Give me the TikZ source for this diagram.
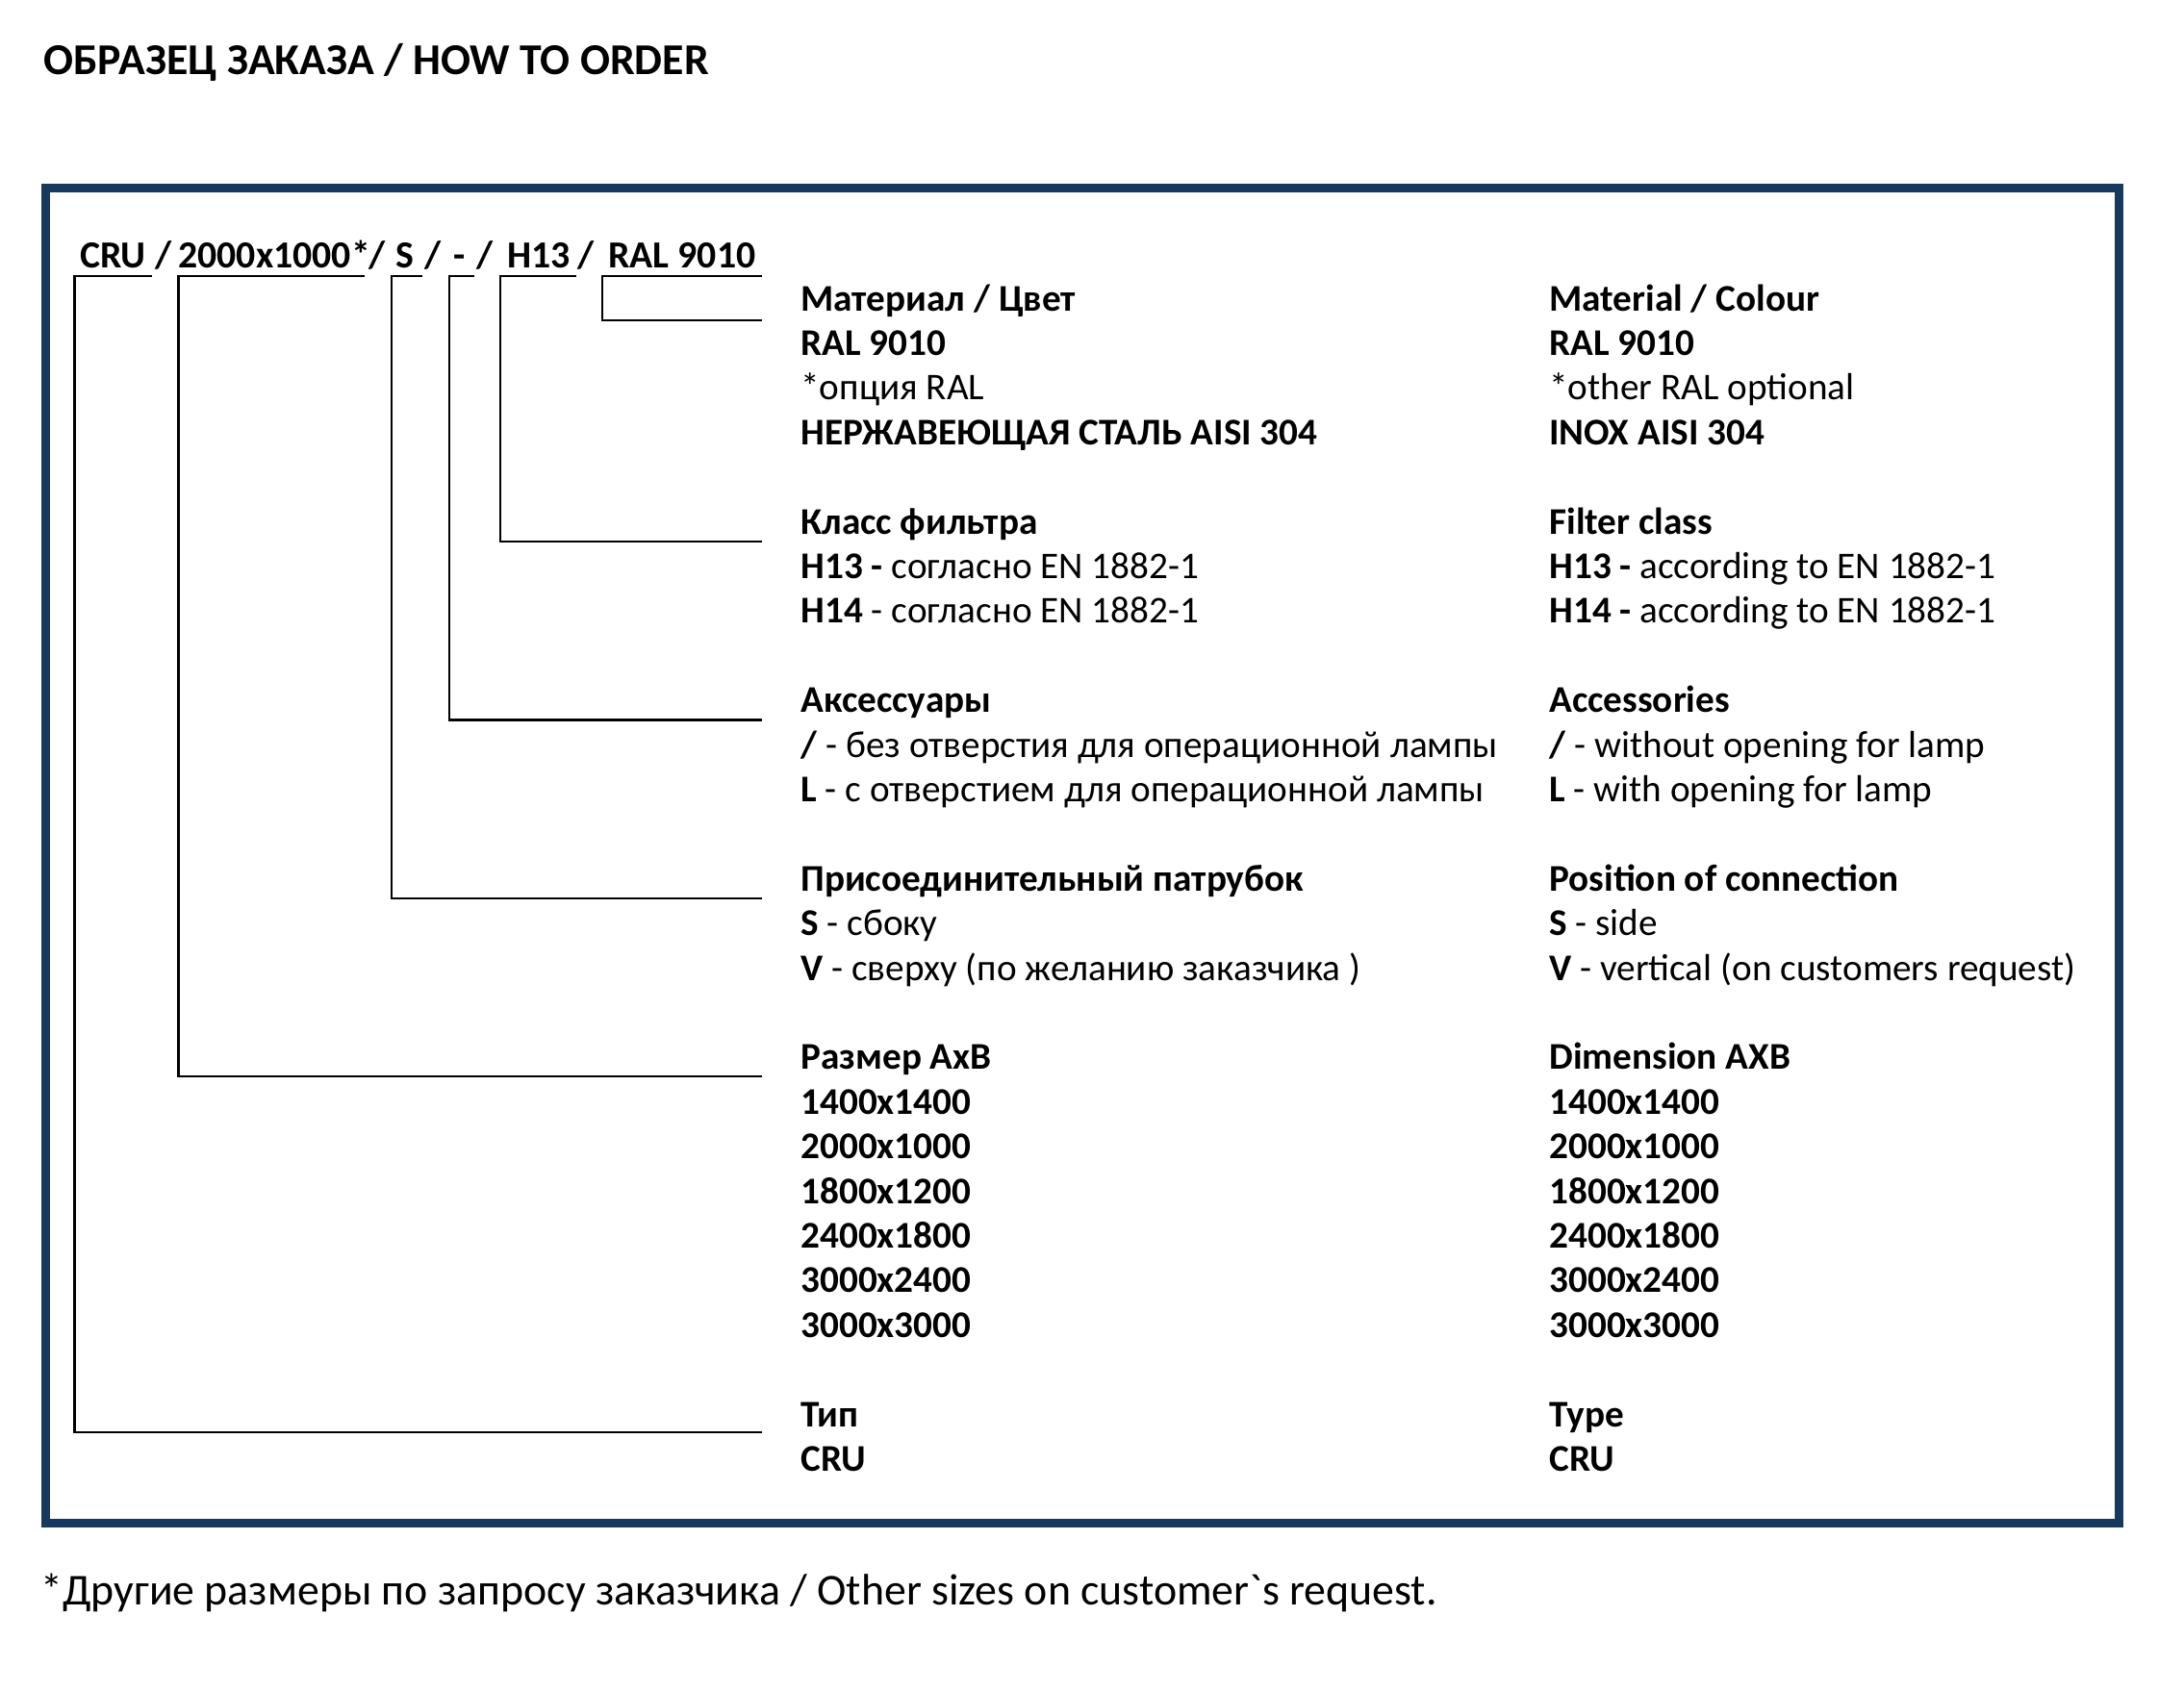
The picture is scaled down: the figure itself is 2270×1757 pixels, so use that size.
\documentclass[tikz,border=0pt]{standalone}
\usepackage{fontspec}
\setmainfont{Carlito}
\definecolor{framenavy}{RGB}{23,57,94}
\tikzset{
  txt/.style={anchor=base west, inner sep=0pt, font=\fontsize{19.6pt}{23pt}\selectfont},
  codetxt/.style={anchor=base west, inner sep=0pt, font=\fontsize{19.9pt}{23pt}\selectfont\bfseries},
  bigtxt/.style={anchor=base west, inner sep=0pt, font=\fontsize{22.9pt}{27pt}\selectfont},
  bracket/.style={line width=1.15pt, line join=miter, black},
  outerframe/.style={line width=4.2pt, draw=framenavy}
}
\begin{document}
\begin{tikzpicture}[x=0.5pt,y=-0.5pt]
\useasboundingbox (0,0) rectangle (2270,1757);
% frame
\draw[outerframe] (47.5,195.5) rectangle (2202.5,1583.5);
% title and footnote
\node[bigtxt, font=\fontsize{22.9pt}{27pt}\selectfont\bfseries] (title) at (45,77.5) {ОБРАЗЕЦ ЗАКАЗА / HOW TO ORDER};
\node[bigtxt] (note) at (42,1668) {*Другие размеры по запросу заказчика / Other sizes on customer\textasciigrave s request.};
% code line
\node[codetxt] (cCRU) at (83,278) {CRU};
\node[codetxt] (cS1) at (161,278) {/};
\node[codetxt] (cDim) at (185,278) {2000x1000*};
\node[codetxt] (cS2) at (383,278) {/};
\node[codetxt] (cPos) at (411,278) {S};
\node[codetxt] (cS3) at (441,278) {/};
\node[codetxt] (cAcc) at (471,278) {-};
\node[codetxt] (cS4) at (495,278) {/};
\node[codetxt] (cFil) at (527,278) {H13};
\node[codetxt] (cS5) at (600,278) {/};
\node[codetxt] (cRal) at (632,278) {RAL 9010};
% Russian column
\node[txt] (r0) at (832,323) {\textbf{Материал / Цвет}};
\node[txt] (r1) at (832,369.4) {\textbf{RAL 9010}};
\node[txt] (r2) at (832,415.8) {*опция RAL};
\node[txt] (r3) at (832,462.2) {\textbf{НЕРЖАВЕЮЩАЯ СТАЛЬ AISI 304}};
\node[txt] (r5) at (832,555) {\textbf{Класс фильтра}};
\node[txt] (r6) at (832,601.4) {\textbf{H13 -} согласно EN 1882-1};
\node[txt] (r7) at (832,647.8) {\textbf{H14} - согласно EN 1882-1};
\node[txt] (r9) at (832,740.6) {\textbf{Аксессуары}};
\node[txt] (r10) at (832,787) {\textbf{/} - без отверстия для операционной лампы};
\node[txt] (r11) at (832,833.4) {\textbf{L} - с отверстием для операционной лампы};
\node[txt] (r13) at (832,926.2) {\textbf{Присоединительный патрубок}};
\node[txt] (r14) at (832,972.6) {\textbf{S} - сбоку};
\node[txt] (r15) at (832,1019) {\textbf{V} - сверху (по желанию заказчика )};
\node[txt] (r17) at (832,1111.8) {\textbf{Размер АхВ}};
\node[txt] (r18) at (832,1158.2) {\textbf{1400x1400}};
\node[txt] (r19) at (832,1204.6) {\textbf{2000x1000}};
\node[txt] (r20) at (832,1251) {\textbf{1800x1200}};
\node[txt] (r21) at (832,1297.4) {\textbf{2400x1800}};
\node[txt] (r22) at (832,1343.8) {\textbf{3000x2400}};
\node[txt] (r23) at (832,1390.2) {\textbf{3000x3000}};
\node[txt] (r25) at (832,1483) {\textbf{Тип}};
\node[txt] (r26) at (832,1529.4) {\textbf{CRU}};
% English column
\node[txt] (e0) at (1610,323) {\textbf{Material / Colour}};
\node[txt] (e1) at (1610,369.4) {\textbf{RAL 9010}};
\node[txt] (e2) at (1610,415.8) {*other RAL optional};
\node[txt] (e3) at (1610,462.2) {\textbf{INOX AISI 304}};
\node[txt] (e5) at (1610,555) {\textbf{Filter class}};
\node[txt] (e6) at (1610,601.4) {\textbf{H13 -} according to EN 1882-1};
\node[txt] (e7) at (1610,647.8) {\textbf{H14 -} according to EN 1882-1};
\node[txt] (e9) at (1610,740.6) {\textbf{Accessories}};
\node[txt] (e10) at (1610,787) {\textbf{/} - without opening for lamp};
\node[txt] (e11) at (1610,833.4) {\textbf{L} - with opening for lamp};
\node[txt] (e13) at (1610,926.2) {\textbf{Position of connection}};
\node[txt] (e14) at (1610,972.6) {\textbf{S} - side};
\node[txt] (e15) at (1610,1019) {\textbf{V} - vertical (on customers request)};
\node[txt] (e17) at (1610,1111.8) {\textbf{Dimension AXB}};
\node[txt] (e18) at (1610,1158.2) {\textbf{1400x1400}};
\node[txt] (e19) at (1610,1204.6) {\textbf{2000x1000}};
\node[txt] (e20) at (1610,1251) {\textbf{1800x1200}};
\node[txt] (e21) at (1610,1297.4) {\textbf{2400x1800}};
\node[txt] (e22) at (1610,1343.8) {\textbf{3000x2400}};
\node[txt] (e23) at (1610,1390.2) {\textbf{3000x3000}};
\node[txt] (e25) at (1610,1483) {\textbf{Type}};
\node[txt] (e26) at (1610,1529.4) {\textbf{CRU}};
% bracket coordinates
\coordinate (cruA) at (158,287);   \coordinate (cruB) at (77.5,287);  \coordinate (cruC) at (77.5,1489); \coordinate (cruD) at (792,1489);
\coordinate (dimA) at (379,287);   \coordinate (dimB) at (185.5,287); \coordinate (dimC) at (185.5,1119); \coordinate (dimD) at (792,1119);
\coordinate (posA) at (439,287);   \coordinate (posB) at (406.7,287); \coordinate (posC) at (406.7,934); \coordinate (posD) at (792,934);
\coordinate (accA) at (493,287);   \coordinate (accB) at (467,287);   \coordinate (accC) at (467,748.5); \coordinate (accD) at (792,748.5);
\coordinate (filA) at (599,287);   \coordinate (filB) at (520,287);   \coordinate (filC) at (520,563);   \coordinate (filD) at (792,563);
\coordinate (ralA) at (792,287);   \coordinate (ralB) at (626,287);   \coordinate (ralC) at (626,333);   \coordinate (ralD) at (792,333);
% brackets
\draw[bracket] (cruA) -- (cruB) -- (cruC) -- (cruD);
\draw[bracket] (dimA) -- (dimB) -- (dimC) -- (dimD);
\draw[bracket] (posA) -- (posB) -- (posC) -- (posD);
\draw[bracket] (accA) -- (accB) -- (accC) -- (accD);
\draw[bracket] (filA) -- (filB) -- (filC) -- (filD);
\draw[bracket] (ralA) -- (ralB) -- (ralC) -- (ralD);
\end{tikzpicture}
\end{document}
